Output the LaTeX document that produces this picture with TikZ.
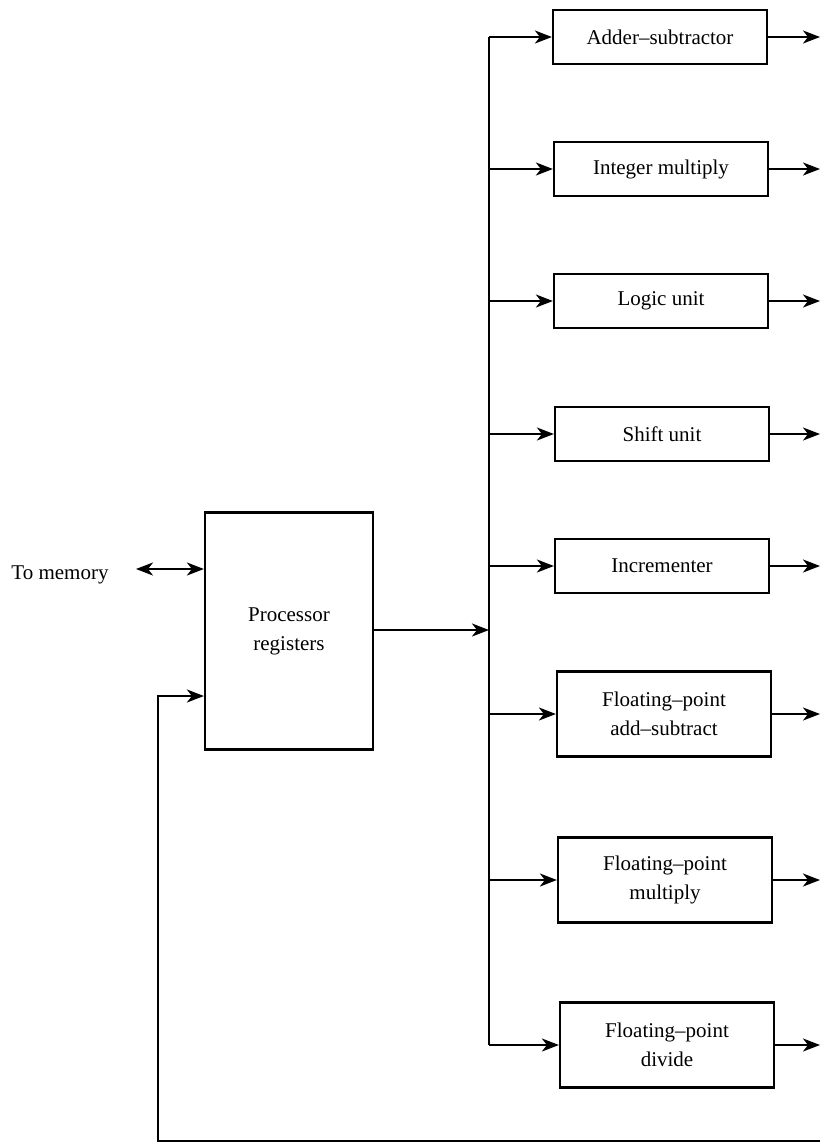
\documentclass[tikz,border=0pt]{standalone}
\usepackage{fontspec}
\setmainfont{Liberation Serif}
\usetikzlibrary{arrows.meta}
\begin{document}
\begin{tikzpicture}[x=1pt,y=-1pt,line width=2.2pt,
  tip/.tip={Stealth[length=17pt,width=13pt,inset=5pt]},
  arr/.style={-tip},
  darr/.style={tip-tip},
  txt/.style={font=\fontsize{21}{29}\selectfont},
  unit/.style={draw,txt,minimum width=214pt,minimum height=54pt,align=center,inner sep=0pt},
  tallunit/.style={unit,minimum height=85pt}]
\useasboundingbox (0,0) rectangle (820,1144);
% processor registers
\node[draw,txt,align=center,minimum width=168pt,minimum height=237pt,inner sep=0pt] (reg) at (289,631) {Processor\\registers};
\node[txt,anchor=east] (mem) at (113,575) {To memory};
\coordinate (memtip) at (136,569);
\draw[darr] (memtip) -- (memtip -| reg.west);
% functional units
\node[unit] (u1) at (660,37) {Adder--subtractor};
\node[unit] (u2) at (661,169) {Integer multiply};
\node[unit] (u3) at (661,301) {Logic unit};
\node[unit] (u4) at (662,434) {Shift unit};
\node[unit] (u5) at (662,566) {Incrementer};
\node[tallunit] (u6) at (664,714) {Floating--point\\add--subtract};
\node[tallunit] (u7) at (665,880) {Floating--point\\multiply};
\node[tallunit] (u8) at (667,1045) {Floating--point\\divide};
% bus
\coordinate (bustop) at (489,37);
\coordinate (busbot) at (489,1045);
\coordinate (busin) at (489,630);
\draw (bustop) -- (busbot);
\draw[arr] (reg.east |- busin) -- (busin);
\foreach \u in {u1,u2,u3,u4,u5,u6,u7,u8}{
  \draw[arr] (bustop |- \u.west) -- (\u.west);
  \draw[arr] (\u.east) -- (820,0 |- \u.east);
}
% feedback
\coordinate (fbR) at (820,1141);
\coordinate (fbL) at (158,1141);
\coordinate (fbin) at (158,696);
\draw[arr] (fbR) -- (fbL) -- (fbin) -- (fbin -| reg.west);
\end{tikzpicture}
\end{document}
